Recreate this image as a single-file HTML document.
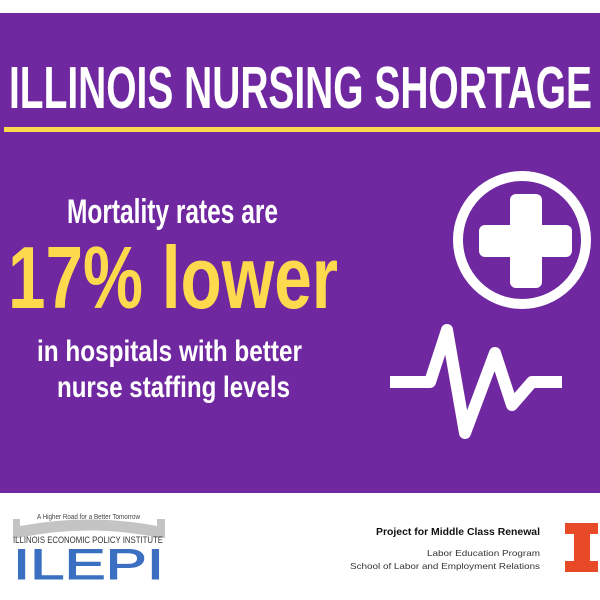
<!DOCTYPE html>
<html><head><meta charset="utf-8"><style>
html,body{margin:0;padding:0;background:#fff;}
svg{display:block;}
text{font-family:"Liberation Sans",sans-serif;}
</style></head><body>
<svg width="600" height="600" viewBox="0 0 600 600" xmlns="http://www.w3.org/2000/svg">
<rect x="0" y="0" width="600" height="600" fill="#fff"/>
<rect x="0" y="13" width="600" height="480" fill="#6f28a0"/>
<text x="9" y="108" font-size="59" font-weight="bold" fill="#fff" textLength="583" lengthAdjust="spacingAndGlyphs">ILLINOIS NURSING SHORTAGE</text>
<rect x="4" y="127" width="596" height="5" fill="#fdd94d"/>
<text x="67" y="223" font-size="34" font-weight="bold" fill="#fff" textLength="211" lengthAdjust="spacingAndGlyphs">Mortality rates are</text>
<text x="8" y="308" font-size="88" font-weight="bold" fill="#fdd94d" textLength="330" lengthAdjust="spacingAndGlyphs">17% lower</text>
<text x="37" y="361" font-size="30" font-weight="bold" fill="#fff" textLength="265" lengthAdjust="spacingAndGlyphs">in hospitals with better</text>
<text x="57" y="397" font-size="30" font-weight="bold" fill="#fff" textLength="233" lengthAdjust="spacingAndGlyphs">nurse staffing levels</text>
<circle cx="522" cy="240" r="64" fill="none" stroke="#fff" stroke-width="10"/>
<rect x="510" y="194" width="32" height="94" rx="6" fill="#fff"/>
<rect x="479" y="225" width="93" height="32" rx="6" fill="#fff"/>
<polyline points="390,382 430,382 447,330 465,433 495,353 512,405 532,382 562,382" fill="none" stroke="#fff" stroke-width="12" stroke-linejoin="round" stroke-linecap="butt"/>
<!-- footer -->
<path d="M13 538 L13 519 L20 519 L20 526 Q89 513 157 526 L157 519 L165 519 L165 538 L160 538 Q89 523 18 538 Z" fill="#c4c4c4"/>
<text x="37" y="519" font-size="7.5" fill="#444" textLength="103" lengthAdjust="spacingAndGlyphs">A Higher Road for a Better Tomorrow</text>
<text x="13" y="543" font-size="9" fill="#333" textLength="150" lengthAdjust="spacingAndGlyphs">ILLINOIS ECONOMIC POLICY INSTITUTE</text>
<text x="13" y="579" font-size="43" fill="#3b6fc1" stroke="#3b6fc1" stroke-width="1" textLength="151" lengthAdjust="spacingAndGlyphs">ILEPI</text>
<text x="540" y="535" font-size="10" font-weight="bold" fill="#111" text-anchor="end" textLength="164" lengthAdjust="spacingAndGlyphs">Project for Middle Class Renewal</text>
<text x="540" y="556" font-size="8.5" fill="#333" text-anchor="end" textLength="113" lengthAdjust="spacingAndGlyphs">Labor Education Program</text>
<text x="540" y="569" font-size="8.5" fill="#333" text-anchor="end" textLength="190" lengthAdjust="spacingAndGlyphs">School of Labor and Employment Relations</text>
<path d="M565 523 L598 523 L598 534 L590 534 L590 561 L598 561 L598 572 L565 572 L565 561 L574 561 L574 534 L565 534 Z" fill="#e84a27"/>
</svg>
</body></html>
